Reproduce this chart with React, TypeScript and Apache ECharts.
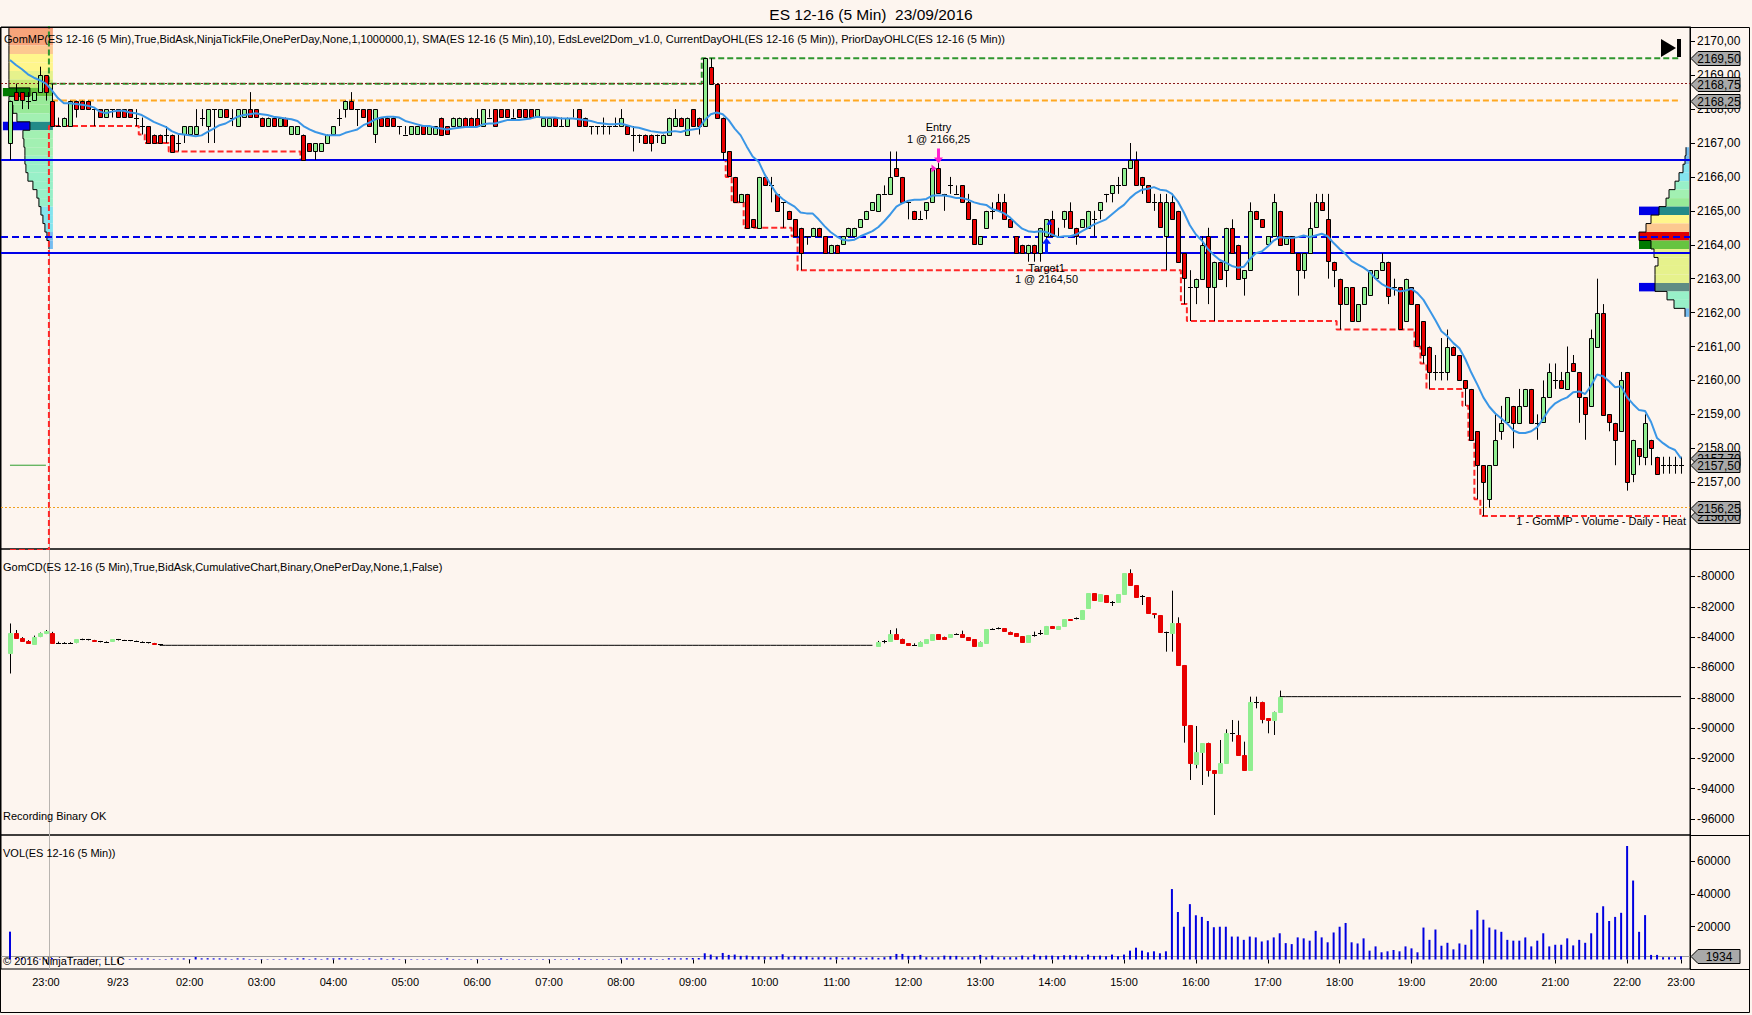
import { useEffect, useRef } from "react";
import * as echarts from "echarts";

// ---------------- DATA ----------------
// 5-minute bars, index 0..279
const priceOpen = [
  2167.0, 2168.5, 2168.5, 2168.25, 2168.25, 2168.5, 2169.0, 2168.25, 2167.5, 2167.5,
  2167.5, 2168.25, 2168.25, 2168.25, 2168.0, 2168.0, 2167.75, 2168.0, 2168.0, 2168.0,
  2168.0, 2167.75, 2167.5, 2167.5, 2167.25, 2167.25, 2167.25, 2167.25, 2167.0, 2167.25,
  2167.25, 2167.25, 2167.75, 2167.5, 2168.0, 2167.75, 2168.0, 2167.75, 2167.5, 2167.75,
  2168.0, 2168.0, 2167.75, 2167.5, 2167.75, 2167.5, 2167.75, 2167.25, 2167.25, 2167.25,
  2167.0, 2166.75, 2166.75, 2167.0, 2167.25, 2167.75, 2168.0, 2168.25, 2168.0, 2168.0,
  2168.0, 2167.25, 2167.75, 2167.75, 2167.75, 2167.5, 2167.25, 2167.25, 2167.25, 2167.5,
  2167.25, 2167.25, 2167.75, 2167.5, 2167.5, 2167.5, 2167.75, 2167.75, 2167.75, 2167.5,
  2167.75, 2168.0, 2168.0, 2168.0, 2167.75, 2168.0, 2168.0, 2168.0, 2167.75, 2167.5,
  2167.5, 2167.75, 2167.5, 2167.5, 2167.75, 2168.0, 2167.75, 2167.5, 2167.5, 2167.5,
  2167.5, 2167.5, 2167.5, 2167.5, 2167.25, 2167.25, 2167.25, 2167.25, 2167.25, 2167.0,
  2167.25, 2167.5, 2167.75, 2167.25, 2168.0, 2167.75, 2167.5, 2169.25, 2168.75, 2167.75,
  2166.75, 2166.0, 2165.25, 2165.5, 2164.75, 2164.5, 2166.0, 2165.75, 2165.5, 2165.25,
  2165.0, 2164.75, 2164.5, 2164.25, 2164.25, 2164.5, 2164.25, 2163.75, 2164.0, 2164.0,
  2164.25, 2164.25, 2164.5, 2164.75, 2165.0, 2165.0, 2165.5, 2165.5, 2166.25, 2166.0,
  2165.25, 2165.0, 2164.75, 2165.0, 2165.25, 2166.25, 2165.5, 2165.75, 2165.5, 2165.75,
  2165.25, 2164.75, 2164.0, 2164.5, 2165.0, 2165.25, 2165.25, 2164.75, 2164.25, 2164.0,
  2163.75, 2164.0, 2163.75, 2164.25, 2164.75, 2164.25, 2164.75, 2165.0, 2164.5, 2164.5,
  2164.5, 2164.75, 2165.0, 2165.5, 2165.5, 2165.75, 2165.75, 2166.25, 2166.5, 2166.0,
  2165.75, 2165.25, 2165.25, 2164.25, 2165.25, 2165.0, 2163.75, 2162.75, 2162.75, 2163.0,
  2164.25, 2162.75, 2163.5, 2163.25, 2164.5, 2164.0, 2163.0, 2163.25, 2165.0, 2164.75,
  2164.0, 2164.25, 2165.0, 2164.0, 2164.25, 2163.75, 2163.25, 2163.75, 2164.5, 2165.25,
  2164.75, 2163.5, 2163.0, 2162.25, 2162.75, 2161.75, 2162.25, 2162.5, 2163.0, 2163.25,
  2163.5, 2162.75, 2162.75, 2161.75, 2162.75, 2162.25, 2161.75, 2161.0, 2160.25, 2160.25,
  2160.25, 2161.0, 2160.75, 2160.0, 2159.75, 2158.5, 2157.5, 2156.5, 2157.5, 2158.5,
  2158.75, 2159.25, 2158.75, 2159.25, 2159.75, 2158.75, 2158.75, 2159.5, 2160.0, 2160.0,
  2159.75, 2160.5, 2160.25, 2159.5, 2159.25, 2161.0, 2162.0, 2159.0, 2158.75, 2158.5,
  2160.25, 2157.25, 2158.0, 2157.75, 2158.25, 2157.75, 2157.5, 2157.5, 2157.5, 2157.5,
];
const priceHigh = [
  2168.25, 2168.75, 2168.5, 2168.5, 2168.5, 2169.25, 2169.0, 2168.75, 2167.75, 2167.75,
  2168.25, 2168.25, 2168.25, 2168.25, 2168.0, 2168.0, 2168.0, 2168.0, 2168.0, 2168.0,
  2168.0, 2168.0, 2167.75, 2167.5, 2167.25, 2167.25, 2167.5, 2167.25, 2167.25, 2167.5,
  2167.5, 2168.0, 2168.0, 2168.0, 2168.0, 2168.0, 2168.0, 2168.0, 2168.0, 2168.0,
  2168.5, 2168.0, 2167.75, 2167.75, 2167.75, 2167.75, 2167.75, 2167.5, 2167.5, 2167.25,
  2167.0, 2167.0, 2167.0, 2167.25, 2167.5, 2168.0, 2168.25, 2168.5, 2168.0, 2168.0,
  2168.0, 2168.0, 2167.75, 2167.75, 2167.75, 2167.5, 2167.5, 2167.5, 2167.5, 2167.5,
  2167.5, 2167.5, 2167.75, 2167.5, 2167.75, 2167.75, 2167.75, 2167.75, 2168.0, 2168.0,
  2168.0, 2168.0, 2168.0, 2168.0, 2168.0, 2168.0, 2168.0, 2168.0, 2168.0, 2167.75,
  2167.75, 2167.75, 2167.75, 2167.75, 2168.0, 2168.0, 2167.75, 2167.5, 2167.5, 2167.75,
  2167.5, 2167.75, 2168.0, 2167.5, 2167.5, 2167.25, 2167.25, 2167.25, 2167.25, 2167.25,
  2167.75, 2168.0, 2167.75, 2167.75, 2168.0, 2167.75, 2169.5, 2169.5, 2168.75, 2167.75,
  2166.75, 2166.0, 2165.5, 2165.5, 2164.75, 2166.0, 2166.0, 2166.0, 2165.5, 2165.25,
  2165.0, 2164.75, 2164.5, 2164.25, 2164.5, 2164.5, 2164.25, 2164.0, 2164.0, 2164.25,
  2164.5, 2164.5, 2164.75, 2165.0, 2165.25, 2165.5, 2165.75, 2166.75, 2166.75, 2166.0,
  2165.25, 2165.0, 2165.0, 2165.25, 2166.25, 2166.5, 2165.5, 2166.0, 2165.75, 2165.75,
  2165.5, 2164.75, 2164.25, 2165.0, 2165.25, 2165.5, 2165.5, 2164.75, 2164.25, 2164.0,
  2164.0, 2164.0, 2164.5, 2164.75, 2165.0, 2164.5, 2165.0, 2165.25, 2164.5, 2164.75,
  2165.0, 2165.0, 2165.25, 2165.5, 2165.75, 2166.0, 2166.25, 2167.0, 2166.75, 2166.0,
  2165.75, 2165.5, 2165.5, 2165.5, 2165.5, 2165.0, 2163.75, 2163.25, 2163.0, 2164.25,
  2164.5, 2163.5, 2163.5, 2164.5, 2164.75, 2164.0, 2163.25, 2165.25, 2165.0, 2164.75,
  2164.25, 2165.5, 2165.0, 2164.25, 2164.25, 2163.75, 2163.75, 2165.25, 2165.5, 2165.5,
  2165.5, 2163.5, 2163.0, 2162.75, 2162.75, 2162.25, 2162.75, 2163.25, 2163.25, 2163.75,
  2163.5, 2163.0, 2162.75, 2163.0, 2162.75, 2162.25, 2161.75, 2161.0, 2160.75, 2161.25,
  2161.5, 2161.0, 2160.75, 2160.0, 2159.75, 2158.5, 2157.5, 2157.5, 2159.0, 2159.25,
  2159.5, 2159.25, 2159.75, 2159.75, 2159.75, 2159.0, 2160.0, 2160.5, 2160.5, 2160.25,
  2161.0, 2160.75, 2160.25, 2159.5, 2161.5, 2163.0, 2162.25, 2159.0, 2158.75, 2160.25,
  2160.25, 2158.25, 2158.0, 2159.0, 2158.25, 2157.75, 2157.75, 2157.75, 2157.75, 2157.75,
];
const priceLow = [
  2166.5, 2168.25, 2168.0, 2168.0, 2168.25, 2168.5, 2168.25, 2167.5, 2167.5, 2167.5,
  2167.5, 2167.75, 2168.0, 2168.0, 2167.5, 2167.75, 2167.75, 2167.75, 2167.75, 2167.75,
  2167.75, 2167.5, 2167.25, 2167.0, 2167.0, 2167.0, 2167.0, 2166.75, 2166.75, 2167.0,
  2167.25, 2167.25, 2167.5, 2167.0, 2167.0, 2167.75, 2167.75, 2167.5, 2167.5, 2167.75,
  2167.75, 2167.75, 2167.5, 2167.5, 2167.5, 2167.5, 2167.5, 2167.25, 2167.25, 2166.5,
  2166.75, 2166.5, 2166.75, 2167.0, 2167.25, 2167.5, 2167.75, 2168.0, 2167.5, 2167.75,
  2167.5, 2167.0, 2167.5, 2167.5, 2167.5, 2167.25, 2167.25, 2167.25, 2167.25, 2167.25,
  2167.25, 2167.25, 2167.25, 2167.25, 2167.5, 2167.5, 2167.5, 2167.5, 2167.5, 2167.5,
  2167.75, 2167.5, 2167.75, 2167.75, 2167.75, 2167.75, 2167.75, 2167.75, 2167.75, 2167.5,
  2167.5, 2167.5, 2167.5, 2167.5, 2167.75, 2167.5, 2167.5, 2167.25, 2167.25, 2167.25,
  2167.25, 2167.5, 2167.5, 2167.25, 2166.75, 2167.0, 2167.0, 2166.75, 2167.0, 2167.0,
  2167.25, 2167.5, 2167.5, 2167.25, 2167.5, 2167.25, 2167.5, 2168.75, 2167.75, 2166.5,
  2166.0, 2165.25, 2165.25, 2164.5, 2164.5, 2164.5, 2165.75, 2165.25, 2165.0, 2164.5,
  2164.75, 2164.25, 2163.25, 2164.0, 2164.25, 2164.25, 2163.75, 2163.75, 2163.75, 2164.0,
  2164.25, 2164.25, 2164.5, 2164.75, 2165.0, 2165.0, 2165.5, 2165.5, 2166.0, 2165.25,
  2164.75, 2164.75, 2164.75, 2164.75, 2165.25, 2165.5, 2165.0, 2165.5, 2165.5, 2165.25,
  2164.75, 2164.0, 2164.0, 2164.5, 2164.75, 2165.0, 2164.75, 2164.5, 2163.75, 2163.75,
  2163.5, 2163.5, 2163.5, 2164.0, 2164.25, 2164.25, 2164.5, 2164.5, 2164.0, 2164.5,
  2164.5, 2164.25, 2164.75, 2165.25, 2165.25, 2165.5, 2165.75, 2166.25, 2165.75, 2165.5,
  2165.25, 2165.0, 2164.5, 2163.25, 2164.75, 2163.5, 2162.25, 2161.75, 2162.25, 2163.0,
  2162.25, 2161.75, 2163.0, 2162.75, 2163.75, 2163.0, 2162.5, 2163.25, 2164.75, 2164.5,
  2164.0, 2164.25, 2164.0, 2164.0, 2163.75, 2162.5, 2163.0, 2163.75, 2164.5, 2165.0,
  2163.0, 2162.75, 2161.5, 2162.25, 2161.75, 2161.75, 2162.25, 2162.5, 2163.0, 2163.25,
  2162.25, 2162.5, 2161.5, 2161.75, 2162.25, 2161.0, 2160.5, 2159.75, 2160.0, 2160.0,
  2160.0, 2160.75, 2160.0, 2159.25, 2158.25, 2156.5, 2156.0, 2156.25, 2157.5, 2158.25,
  2158.75, 2158.0, 2158.75, 2159.25, 2158.75, 2158.25, 2158.75, 2159.5, 2159.75, 2159.75,
  2159.75, 2160.25, 2158.75, 2158.25, 2159.25, 2161.0, 2159.0, 2158.5, 2157.5, 2158.5,
  2156.75, 2157.0, 2157.5, 2157.5, 2157.5, 2157.25, 2157.25, 2157.25, 2157.25, 2157.25,
];
const priceClose = [
  2168.25, 2168.25, 2168.25, 2168.25, 2168.5, 2169.0, 2168.5, 2167.5, 2167.5, 2167.75,
  2168.25, 2168.0, 2168.0, 2168.0, 2168.0, 2167.75, 2168.0, 2168.0, 2167.75, 2167.75,
  2167.75, 2167.75, 2167.5, 2167.0, 2167.0, 2167.0, 2167.25, 2166.75, 2167.0, 2167.5,
  2167.5, 2167.5, 2167.75, 2168.0, 2168.0, 2168.0, 2167.75, 2167.75, 2168.0, 2168.0,
  2167.75, 2167.75, 2167.5, 2167.75, 2167.5, 2167.75, 2167.5, 2167.5, 2167.5, 2166.5,
  2166.75, 2167.0, 2167.0, 2167.25, 2167.5, 2167.75, 2168.25, 2168.0, 2168.0, 2167.75,
  2167.5, 2168.0, 2167.5, 2167.5, 2167.5, 2167.5, 2167.25, 2167.5, 2167.5, 2167.25,
  2167.5, 2167.5, 2167.25, 2167.25, 2167.75, 2167.75, 2167.5, 2167.5, 2167.5, 2168.0,
  2167.75, 2167.5, 2167.75, 2167.75, 2167.75, 2167.75, 2167.75, 2167.75, 2168.0, 2167.75,
  2167.75, 2167.5, 2167.5, 2167.75, 2167.75, 2167.5, 2167.5, 2167.5, 2167.5, 2167.5,
  2167.5, 2167.5, 2167.75, 2167.25, 2167.25, 2167.25, 2167.0, 2167.0, 2167.25, 2167.25,
  2167.75, 2167.75, 2167.5, 2167.75, 2167.5, 2167.5, 2169.5, 2168.75, 2167.75, 2166.75,
  2166.0, 2165.25, 2165.5, 2164.5, 2164.5, 2166.0, 2165.75, 2165.75, 2165.0, 2165.25,
  2164.75, 2164.25, 2163.75, 2164.25, 2164.5, 2164.25, 2163.75, 2164.0, 2163.75, 2164.25,
  2164.5, 2164.5, 2164.75, 2165.0, 2165.25, 2165.5, 2165.5, 2166.0, 2166.0, 2165.25,
  2165.25, 2164.75, 2164.75, 2165.25, 2166.25, 2165.5, 2165.5, 2165.75, 2165.5, 2165.25,
  2164.75, 2164.0, 2164.25, 2165.0, 2165.0, 2165.0, 2164.75, 2164.5, 2163.75, 2163.75,
  2164.0, 2163.75, 2164.5, 2164.75, 2164.25, 2164.25, 2165.0, 2164.5, 2164.25, 2164.75,
  2165.0, 2164.75, 2165.25, 2165.5, 2165.75, 2165.75, 2166.25, 2166.5, 2165.75, 2165.75,
  2165.25, 2165.25, 2164.5, 2165.25, 2164.75, 2163.5, 2163.0, 2162.75, 2163.0, 2164.0,
  2162.75, 2163.5, 2163.0, 2164.5, 2163.75, 2163.0, 2163.25, 2165.0, 2164.75, 2164.5,
  2164.25, 2165.25, 2164.0, 2164.25, 2163.75, 2163.25, 2163.75, 2164.5, 2165.25, 2165.0,
  2163.5, 2163.25, 2162.25, 2162.75, 2161.75, 2162.25, 2162.75, 2163.25, 2163.25, 2163.5,
  2162.5, 2162.75, 2161.5, 2163.0, 2162.25, 2161.0, 2160.75, 2160.25, 2160.25, 2160.25,
  2161.0, 2160.75, 2160.0, 2159.75, 2158.25, 2157.5, 2157.0, 2157.5, 2158.25, 2158.75,
  2159.5, 2158.75, 2159.25, 2159.75, 2158.75, 2158.75, 2159.5, 2160.25, 2160.0, 2159.75,
  2160.25, 2160.25, 2159.5, 2159.0, 2161.25, 2162.0, 2159.0, 2158.75, 2158.25, 2160.0,
  2157.0, 2158.25, 2157.75, 2158.75, 2158.0, 2157.25, 2157.5, 2157.5, 2157.5, 2157.5,
];
// closes of the 9 bars before the first visible bar (SMA warm-up)
const smaWarmupCloses = [2169.75, 2169.5, 2169.75, 2169.5, 2169.75, 2169.5, 2169.5, 2169.75, 2169.25];
const smaPeriod = 10;

const sessionStartBar = 7;
const prevSessionHigh = 2171.0;
const prevSessionLow = 2155.0;
const priorDayHigh = 2168.75;
const priorDayLow = 2156.25;
const prevSessionRefPrice = 2157.5;
const domSolidLevels = [2166.5, 2163.75];
const domDashedLevels = [2164.25];

const entryBar = 155;
const entryPrice = 2166.25;
const targetBar = 173;
const targetPrice = 2164.5;

// Cumulative delta (GomCD) candles, two recorded blocks
const cdStartA = 0;
const cdOpenA = [-85050, -83750, -84050, -84250, -84400, -83970, -83750, -83700, -84370, -84370, -84370, -84370, -84150, -84150, -84200, -84270, -84330, -84300, -84150, -84200, -84220, -84250, -84300, -84350, -84400, -84480];
const cdHighA = [-83100, -83530, -84000, -84200, -83900, -83700, -83530, -83650, -84300, -84330, -84330, -84150, -84100, -84120, -84180, -84250, -84280, -84130, -84120, -84180, -84200, -84230, -84280, -84330, -84380, -84460];
const cdLowA = [-86400, -84100, -84300, -84450, -84420, -84000, -83800, -84400, -84400, -84400, -84400, -84400, -84200, -84220, -84300, -84350, -84350, -84320, -84220, -84240, -84270, -84320, -84370, -84420, -84500, -84560];
const cdCloseA = [-83750, -84080, -84250, -84400, -83970, -83750, -83600, -84370, -84370, -84370, -84370, -84150, -84150, -84200, -84270, -84330, -84300, -84150, -84200, -84220, -84250, -84300, -84350, -84400, -84480, -84540];
const cdStartB = 145;
const cdOpenB = [
  -84540, -84300, -84300, -83815, -84145, -84410, -84540, -84585, -84410, -84189,
  -83815, -83969, -84013, -83815, -83815, -84013, -84145, -84585, -84409, -83485,
  -83420, -83419, -83639, -83749, -83925, -84299, -83859, -83750, -83815, -83265,
  -83485, -83265, -82826, -82760, -82826, -82100, -81111, -81616, -81220, -81660,
  -81660, -81155, -79791, -80561, -81300, -81374, -82430, -82540, -83639, -83749,
  -83090, -85838, -89797, -92326, -91556, -90963, -92766, -92986, -92326, -90347,
  -90457, -91776, -92766, -88257, -88257, -89357, -89467, -88917,
];
const cdHighB = [
  -84250, -84190, -83530, -83420, -84100, -84400, -84410, -84300, -84145, -83815,
  -83815, -83969, -83815, -83750, -83573, -84013, -84145, -84299, -83485, -83419,
  -83353, -83419, -83639, -83749, -83925, -83859, -83639, -83530, -83265, -83265,
  -83265, -82826, -82826, -82700, -82210, -81111, -81111, -81177, -81220, -81616,
  -81155, -79791, -79527, -80561, -81220, -81374, -82430, -82540, -83639, -80935,
  -82694, -85838, -89797, -89863, -91556, -90963, -92766, -90787, -90083, -89467,
  -89511, -90897, -87927, -87927, -88257, -89357, -88917, -87530,
];
const cdLowB = [
  -84540, -84410, -84300, -84145, -84410, -84540, -84585, -84585, -84410, -84189,
  -84145, -84145, -84013, -83860, -84013, -84189, -84585, -84585, -84409, -83530,
  -83485, -83639, -83749, -83969, -84299, -84299, -83969, -83859, -83815, -83419,
  -83485, -83265, -82914, -82830, -82826, -82100, -81594, -81616, -81660, -81946,
  -81660, -81155, -80561, -81374, -81880, -82430, -82760, -83639, -84959, -84959,
  -85838, -90963, -93426, -92656, -93756, -93206, -95735, -92986, -92326, -90897,
  -91776, -92766, -92766, -88697, -89687, -90347, -90457, -88917,
];
const cdCloseB = [
  -84300, -84250, -83815, -84145, -84410, -84540, -84500, -84300, -84145, -83815,
  -84145, -84100, -83815, -83815, -84013, -84189, -84585, -84299, -83485, -83485,
  -83420, -83639, -83749, -83969, -84299, -83859, -83859, -83750, -83265, -83419,
  -83265, -82826, -82914, -82760, -82210, -81111, -81594, -81177, -81660, -81660,
  -81155, -79791, -80561, -81374, -81300, -82430, -82500, -83639, -83700, -83090,
  -85838, -89797, -92326, -91556, -90963, -92766, -92986, -92326, -90347, -90391,
  -91776, -92766, -88257, -88257, -89357, -89511, -88917, -87927,
];

// Volume per bar
const volume = [
  17000, 800, 900, 300, 250, 400, 300, 900, 300, 250,
  300, 250, 300, 200, 300, 250, 300, 200, 300, 250,
  300, 700, 600, 700, 300, 250, 300, 700, 600, 700,
  300, 1500, 700, 800, 700, 700, 600, 300, 700, 700,
  300, 250, 300, 250, 300, 300, 700, 300, 700, 800,
  300, 700, 300, 700, 700, 800, 700, 700, 300, 300,
  700, 300, 700, 300, 700, 300, 250, 300, 250, 300,
  250, 300, 250, 700, 300, 250, 300, 250, 300, 250,
  300, 250, 700, 300, 250, 300, 250, 300, 250, 300,
  250, 300, 250, 300, 250, 700, 300, 250, 300, 250,
  300, 250, 700, 700, 600, 700, 700, 700, 300, 300,
  800, 700, 700, 800, 900, 900, 3800, 3000, 1800, 4000,
  2800, 3000, 2200, 2400, 2000, 2000, 1800, 1600, 2000, 3200,
  1600, 2200, 1800, 2000, 1200, 1400, 1600, 1200, 1500, 1000,
  1300, 1500, 1000, 1100, 1400, 1000,
  1400, 2000, 3400, 3400, 2200, 2200, 2800, 1400, 1400, 1400,
  2400, 2200, 2200, 1400, 1400, 2000, 2800, 1400, 2400, 1400,
  1400, 1400, 1400, 2400, 1400, 3000, 2200, 2400, 2400, 2000,
  2600, 2600, 2400, 1800, 3000, 2200, 2400, 2000, 3000, 2000,
  3000, 5400, 7200, 5400, 4400, 5000, 3800, 5000, 43000, 29000,
  20000, 33800, 27000, 26000, 23500, 19700, 20000, 20000, 14000, 14000,
  12000, 14000, 13500, 11000, 11700, 13500, 16000, 10000, 9400, 13500,
  12900, 11500, 17500, 13500, 10500, 16500, 20000, 22300, 10500, 9800,
  12900, 5400, 8000, 4400, 5000, 5800, 5000, 8000, 6800, 4400,
  19500, 12000, 18300, 8400, 10200, 6200, 9800, 9000, 18300, 30100,
  24300, 19500, 18300, 16900, 12000, 11500, 11500, 13500, 8000, 11500,
  16000, 8000, 9000, 9000, 12900, 8600, 12000, 10200, 16000, 28500,
  32500, 23500, 26000, 28500, 69300, 48200, 16900, 27100, 2800, 2800,
  1400, 1400, 1400, 1934,
];

// Time-axis labels (bar index -> text)
const timeLabelBars = [6, 18, 30, 42, 54, 66, 78, 90, 102, 114, 126, 138, 150, 162, 174, 186, 198, 210, 222, 234, 246, 258, 270, 279];
const timeLabelTexts = ["23:00", "9/23", "02:00", "03:00", "04:00", "05:00", "06:00", "07:00", "08:00", "09:00", "10:00", "11:00", "12:00", "13:00", "14:00", "15:00", "16:00", "17:00", "18:00", "19:00", "20:00", "21:00", "22:00", "23:00"];

const priceTicks = [2156, 2157, 2158, 2159, 2160, 2161, 2162, 2163, 2164, 2165, 2166, 2167, 2168, 2169, 2170];
const cdTicks = [-80000, -82000, -84000, -86000, -88000, -90000, -92000, -94000, -96000];
const volTicks = [20000, 40000, 60000];

// Volume profiles (GomMP heat): price level, volume, heat class
const leftProfilePrice = [2170.5, 2170.25, 2170.0, 2169.75, 2169.5, 2169.25, 2169.0, 2168.75, 2168.5, 2168.25, 2168.0, 2167.75, 2167.5, 2167.25, 2167.0, 2166.75, 2166.5, 2166.25, 2166.0, 2165.75, 2165.5, 2165.25, 2165.0, 2164.75, 2164.5, 2164.25, 2164.0];
const leftProfileVolume = [4400, 4400, 4400, 4400, 4400, 4400, 4400, 4400, 2300, 4400, 4000, 3600, 2300, 3000, 2900, 2800, 2800, 2700, 2500, 2000, 1600, 1400, 1200, 1000, 800, 600, 400];
const leftProfileHeat = [0, 1, 1, 2, 3, 3, 4, 5, 13, 6, 6, 7, 11, 7, 7, 7, 8, 8, 8, 8, 8, 8, 9, 9, 9, 10, 10];
const leftProfileMarkerPrice = [2168.5, 2167.5];
const rightProfilePrice = [2166.75, 2166.5, 2166.25, 2166.0, 2165.75, 2165.5, 2165.25, 2165.0, 2164.75, 2164.5, 2164.25, 2164.0, 2163.75, 2163.5, 2163.25, 2163.0, 2162.75, 2162.5, 2162.25, 2162.0];
const rightProfileVolume = [300, 400, 600, 1000, 1400, 2000, 2300, 3000, 3800, 4300, 5000, 3800, 3500, 3100, 3400, 3400, 3400, 2200, 1500, 400];
const rightProfileHeat = [10, 10, 9, 9, 8, 7, 6, 11, 3, 2, 0, 13, 4, 4, 4, 4, 12, 8, 8, 10];
const rightProfileMarkerPrice = [2165.0, 2164.0, 2162.75];

// ---------------- STYLE ----------------
const BG = "#fdf5ef";
const FONT = '"Liberation Sans", Arial, sans-serif';
const heatPalette = ["#e00000", "#f7a47a", "#fcc890", "#fff68c", "#e6f28c", "#c8ea74", "#98ea98", "#a2f0b2", "#98f0c8", "#84e4ee", "#74bcf0", "#238a88", "#5f8c84", "#66c440"];
const markerColors: Record<string, string> = { "2168.5": "#007a00", "2167.5": "#0000e6", "2165": "#0000e6", "2164": "#007a00", "2162.75": "#0000e6" };
const UP = "#90ee90";
const DOWN = "#e80000";

// ---------------- DERIVED ----------------
const N = priceClose.length;
const cat = (i: number) => i + 1;
const CATS = N + 2;
const categories = Array.from({ length: CATS }, (_, k) => String(k));
const labelMap: Record<number, string> = {};
timeLabelBars.forEach((b, j) => (labelMap[cat(b)] = timeLabelTexts[j]));

const closesExt = [...smaWarmupCloses, ...priceClose];
const sma = priceClose.map((_, i) => {
  let s = 0;
  for (let j = 0; j < smaPeriod; j++) s += closesExt[i + j];
  return s / smaPeriod;
});
const dayHigh = priceHigh.map((_, i) => (i < sessionStartBar ? prevSessionHigh : Math.max(...priceHigh.slice(sessionStartBar, i + 1))));
const dayLow = priceLow.map((_, i) => (i < sessionStartBar ? prevSessionLow : Math.min(...priceLow.slice(sessionStartBar, i + 1))));
const dayOpen = priceOpen[sessionStartBar];

const candleData = priceClose.map((c, i) => [cat(i), priceOpen[i], priceHigh[i], priceLow[i], c]);
const cdData: number[][] = [];
cdCloseA.forEach((c, j) => cdData.push([cat(cdStartA + j), cdOpenA[j], cdHighA[j], cdLowA[j], c]));
cdCloseB.forEach((c, j) => cdData.push([cat(cdStartB + j), cdOpenB[j], cdHighB[j], cdLowB[j], c]));
// carry-forward line where no delta was recorded
const cdCloseByBar: (number | null)[] = Array(N).fill(null);
cdCloseA.forEach((c, j) => (cdCloseByBar[cdStartA + j] = c));
cdCloseB.forEach((c, j) => (cdCloseByBar[cdStartB + j] = c));
const cdCarry: (number | null)[][] = [];
{
  let last: number | null = null;
  for (let i = 0; i < N; i++) {
    const v = cdCloseByBar[i];
    if (v === null) {
      if (last !== null) cdCarry.push([cat(i), last]);
    } else {
      const nextNull = i + 1 < N && cdCloseByBar[i + 1] === null;
      if (nextNull) cdCarry.push([cat(i), v]);
      else if (cdCarry.length && cdCarry[cdCarry.length - 1][1] !== null && (i === 0 || cdCloseByBar[i - 1] === null)) cdCarry.push([cat(i), null]);
      last = v;
    }
  }
}

const fmtPrice = (v: number) => v.toFixed(2).replace(".", ",");

// ---------------- RENDER HELPERS ----------------
function candleRenderer(stroke: string | null) {
  return (params: any, api: any) => {
    const k = api.value(0);
    const o = api.value(1), h = api.value(2), l = api.value(3), c = api.value(4);
    const pO = api.coord([k, o]);
    const pC = api.coord([k, c]);
    const pH = api.coord([k, h]);
    const pL = api.coord([k, l]);
    const x = Math.round(pO[0]) + 0.5;
    const half = 2;
    const top = Math.min(pO[1], pC[1]);
    const bot = Math.max(pO[1], pC[1]);
    const children: any[] = [
      { type: "line", shape: { x1: x, y1: pH[1], x2: x, y2: pL[1] }, style: { stroke: "#000", lineWidth: 1 } },
    ];
    if (bot - top < 1) {
      children.push({ type: "line", shape: { x1: x - half - 0.5, y1: Math.round(top) + 0.5, x2: x + half + 0.5, y2: Math.round(top) + 0.5 }, style: { stroke: "#000", lineWidth: 1 } });
    } else {
      const fill = c > o ? UP : DOWN;
      children.push({ type: "rect", shape: { x: x - half, y: Math.round(top) + 0.5, width: half * 2, height: Math.round(bot - top) }, style: { fill, stroke: stroke ?? fill, lineWidth: 1 } });
    }
    return { type: "group", children };
  };
}

function profileRenderer(prices: number[], vols: number[], heat: number[], markers: number[], side: "left" | "right") {
  const scale = 0.01; // px per contract
  const markerWidth = 50;
  return (params: any, api: any) => {
    const cs = params.coordSys;
    const anchor = side === "left" ? api.coord([cat(sessionStartBar), prices[0]])[0] + 1 : cs.x + cs.width - 1;
    const children: any[] = [];
    const outline: number[][] = [];
    prices.forEach((p, j) => {
      const yTop = Math.max(cs.y + 1, api.coord([0, p + 0.125])[1]);
      const yBot = Math.min(cs.y + cs.height, api.coord([0, p - 0.125])[1]);
      if (yBot <= yTop) return;
      const w = vols[j] * scale;
      const isMarker = markers.indexOf(p) >= 0;
      if (isMarker) {
        children.push({ type: "rect", shape: { x: anchor - markerWidth, y: yTop, width: markerWidth - w, height: yBot - yTop }, style: { fill: markerColors[String(p)] } });
      }
      children.push({ type: "rect", shape: { x: anchor - w, y: yTop, width: w, height: yBot - yTop }, style: { fill: heatPalette[heat[j]] } });
      outline.push([anchor - w, yTop], [anchor - w, yBot]);
    });
    children.push({ type: "polyline", shape: { points: outline }, style: { stroke: "#000", lineWidth: 1, fill: null } });
    return { type: "group", children };
  };
}

function tagRenderer(texts: string[]) {
  return (params: any, api: any) => {
    const cs = params.coordSys;
    const y = Math.round(api.coord([0, api.value(1)])[1]) + 0.5;
    const x0 = cs.x + cs.width + 1;
    const hh = 7;
    return {
      type: "group",
      children: [
        { type: "polygon", shape: { points: [[x0, y], [x0 + 7, y - hh], [x0 + 49, y - hh], [x0 + 49, y + hh], [x0 + 7, y + hh]] }, style: { fill: "#a9a9a9", stroke: "#000", lineWidth: 1 } },
        { type: "text", style: { text: texts[params.dataIndex], x: x0 + 28, y: y + 0.5, fill: "#000", font: `12px ${FONT}`, align: "center", verticalAlign: "middle", textAlign: "center", textVerticalAlign: "middle" } },
      ],
    };
  };
}

function sessionLineRenderer() {
  return (params: any, api: any) => {
    const cs = params.coordSys;
    const xa = api.coord([cat(sessionStartBar - 1), 0])[0];
    const xb = api.coord([cat(sessionStartBar), 0])[0];
    const x = Math.round((xa + xb) / 2) + 0.5;
    return { type: "line", shape: { x1: x, y1: cs.y, x2: x, y2: cs.y + cs.height }, style: { stroke: "#b8b4b0", lineWidth: 1 } };
  };
}

function tradeRenderer() {
  return (params: any, api: any) => {
    const font = `11px ${FONT}`;
    const ex = api.coord([cat(entryBar), entryPrice]);
    const tx = api.coord([cat(targetBar), targetPrice]);
    const eTip = ex[1] - 5;
    const tTip = tx[1] + 10;
    const pink = "#ff20d0";
    const blue = "#0020ff";
    const xe = Math.round(ex[0]) + 0.5;
    const xt = Math.round(tx[0]) + 0.5;
    return {
      type: "group",
      children: [
        { type: "polygon", shape: { points: [[xe - 1.5, eTip - 15], [xe + 1.5, eTip - 15], [xe + 1.5, eTip - 6], [xe + 4.5, eTip - 6], [xe, eTip], [xe - 4.5, eTip - 6], [xe - 1.5, eTip - 6]] }, style: { fill: pink } },
        { type: "polygon", shape: { points: [[xe - 7, ex[1] - 4], [xe - 2, ex[1]], [xe - 7, ex[1] + 4]] }, style: { fill: pink } },
        { type: "text", style: { text: "Entry", x: xe, y: eTip - 36, fill: "#000", font, align: "center", verticalAlign: "middle", textAlign: "center", textVerticalAlign: "middle" } },
        { type: "text", style: { text: `1 @ ${fmtPrice(entryPrice)}`, x: xe, y: eTip - 24, fill: "#000", font, align: "center", verticalAlign: "middle", textAlign: "center", textVerticalAlign: "middle" } },
        { type: "polygon", shape: { points: [[xt - 1.5, tTip + 16], [xt + 1.5, tTip + 16], [xt + 1.5, tTip + 6], [xt + 4.5, tTip + 6], [xt, tTip], [xt - 4.5, tTip + 6], [xt - 1.5, tTip + 6]] }, style: { fill: blue } },
        { type: "polygon", shape: { points: [[xt + 3, tx[1] - 8], [xt + 6, tx[1] - 3], [xt, tx[1] - 3]] }, style: { fill: blue } },
        { type: "text", style: { text: "Target1", x: xt, y: tTip + 30, fill: "#000", font, align: "center", verticalAlign: "middle", textAlign: "center", textVerticalAlign: "middle" } },
        { type: "text", style: { text: `1 @ ${fmtPrice(targetPrice)}`, x: xt, y: tTip + 41, fill: "#000", font, align: "center", verticalAlign: "middle", textAlign: "center", textVerticalAlign: "middle" } },
      ],
    };
  };
}

// ---------------- COMPONENT ----------------
export default function App() {
  const ref = useRef<HTMLDivElement>(null);
  useEffect(() => {
    document.body.style.margin = "0";
    const chart = echarts.init(ref.current!, undefined, { renderer: "svg" });

    const GL = 1, GW = 1689;
    const grids = [
      { left: GL, top: 27, width: GW, height: 522 },
      { left: GL, top: 549, width: GW, height: 286 },
      { left: GL, top: 835, width: GW, height: 134 },
    ].map((g) => ({ ...g, show: true, borderColor: "#000", borderWidth: 1, backgroundColor: "transparent", containLabel: false }));

    const xAxes = [0, 1, 2].map((gi) => ({
      type: "category",
      gridIndex: gi,
      data: categories,
      boundaryGap: true,
      show: gi === 2,
      axisLine: { show: false },
      axisTick: { show: gi === 2, alignWithLabel: true, length: 4, interval: (idx: number) => labelMap[idx] !== undefined, lineStyle: { color: "#000" } },
      axisLabel: { show: gi === 2, interval: (idx: number) => labelMap[idx] !== undefined, formatter: (_v: string, idx: number) => labelMap[idx] ?? "", color: "#000", fontSize: 11, fontFamily: FONT, margin: 7 },
      splitLine: { show: false },
    }));

    const yCommon = {
      position: "right",
      axisLine: { show: true, lineStyle: { color: "#000" } },
      splitLine: { show: false },
    };
    const yLabel = { color: "#000", fontSize: 12, fontFamily: FONT, margin: 7 };
    const yAxes = [
      { ...yCommon, gridIndex: 0, type: "value", min: 2155.03, max: 2170.42, axisTick: { show: true, length: 5, lineStyle: { color: "#000" }, customValues: priceTicks }, axisLabel: { ...yLabel, customValues: priceTicks, formatter: (v: number) => fmtPrice(v) } },
      { ...yCommon, gridIndex: 1, type: "value", min: -97055, max: -78186, axisTick: { show: true, length: 5, lineStyle: { color: "#000" }, customValues: cdTicks }, axisLabel: { ...yLabel, customValues: cdTicks, formatter: (v: number) => String(v) } },
      { ...yCommon, gridIndex: 2, type: "value", min: -5800, max: 76000, axisTick: { show: true, length: 5, lineStyle: { color: "#000" }, customValues: volTicks }, axisLabel: { ...yLabel, customValues: volTicks, formatter: (v: number) => String(v) } },
    ];

    const lastSma = sma[N - 1];
    const priceTagValues = [dayHigh[N - 1], priorDayHigh, dayOpen, lastSma, priceClose[N - 1], dayLow[N - 1], priorDayLow];
    const priceTagTexts = priceTagValues.map(fmtPrice);
    const lastVol = volume[N - 1];

    const levelLines = [
      ...domSolidLevels.map((v) => ({ yAxis: v, lineStyle: { color: "#0000e8", width: 2, type: "solid" } })),
      ...domDashedLevels.map((v) => ({ yAxis: v, lineStyle: { color: "#0000e8", width: 2, type: [7, 4] } })),
      { yAxis: priorDayHigh, lineStyle: { color: "#8b1a1a", width: 1, type: [2, 2] } },
      { yAxis: priorDayLow, lineStyle: { color: "#f0a020", width: 1, type: [2, 2] } },
    ];

    const series: any[] = [
      ...[0, 1, 2].map((gi) => ({ type: "custom", xAxisIndex: gi, yAxisIndex: gi, data: [[0, 0]], renderItem: sessionLineRenderer(), silent: true, z: 1 })),
      { type: "custom", xAxisIndex: 0, yAxisIndex: 0, data: [[0, leftProfilePrice[0]]], renderItem: profileRenderer(leftProfilePrice, leftProfileVolume, leftProfileHeat, leftProfileMarkerPrice, "left"), silent: true, z: 2 },
      { type: "custom", xAxisIndex: 0, yAxisIndex: 0, data: [[0, rightProfilePrice[0]]], renderItem: profileRenderer(rightProfilePrice, rightProfileVolume, rightProfileHeat, rightProfileMarkerPrice, "right"), silent: true, z: 2 },
      { type: "line", xAxisIndex: 0, yAxisIndex: 0, data: [], silent: true, z: 3, markLine: { symbol: "none", silent: true, label: { show: false }, data: levelLines } },
      { type: "line", xAxisIndex: 0, yAxisIndex: 0, data: [[cat(0), prevSessionRefPrice], [cat(sessionStartBar - 1), prevSessionRefPrice]], symbol: "none", lineStyle: { color: "#2e9e2e", width: 1 }, z: 3, silent: true },
      { type: "line", xAxisIndex: 0, yAxisIndex: 0, data: dayHigh.map((v, i) => [cat(i), v]), step: "middle", symbol: "none", lineStyle: { color: "#2f962f", width: 2, type: [6, 3] }, z: 4, silent: true },
      { type: "line", xAxisIndex: 0, yAxisIndex: 0, data: priceClose.map((_, i) => [cat(i), i < sessionStartBar ? null : dayOpen]), symbol: "none", lineStyle: { color: "#ffa820", width: 2, type: [6, 3] }, z: 4, silent: true },
      { type: "line", xAxisIndex: 0, yAxisIndex: 0, data: dayLow.map((v, i) => [cat(i), v]), step: "middle", symbol: "none", lineStyle: { color: "#ff2828", width: 2, type: [6, 3] }, z: 4, silent: true },
      { type: "custom", xAxisIndex: 0, yAxisIndex: 0, data: candleData, encode: { x: 0, y: [1, 2, 3, 4] }, renderItem: candleRenderer("#000"), clip: true, z: 5 },
      { type: "line", xAxisIndex: 0, yAxisIndex: 0, data: sma.map((v, i) => [cat(i), v]), symbol: "none", lineStyle: { color: "#3a96e6", width: 2 }, z: 6, silent: true },
      { type: "custom", xAxisIndex: 0, yAxisIndex: 0, data: [[cat(entryBar), entryPrice]], renderItem: tradeRenderer(), silent: true, z: 7 },
      { type: "custom", xAxisIndex: 0, yAxisIndex: 0, data: priceTagValues.map((v) => [0, v]), encode: { x: 0, y: 1 }, renderItem: tagRenderer(priceTagTexts), silent: true, z: 10, clip: false },
      { type: "line", xAxisIndex: 1, yAxisIndex: 1, data: cdCarry, symbol: "none", lineStyle: { color: "#000", width: 1 }, z: 4, silent: true, connectNulls: false },
      { type: "custom", xAxisIndex: 1, yAxisIndex: 1, data: cdData, encode: { x: 0, y: [1, 2, 3, 4] }, renderItem: candleRenderer(null), clip: true, z: 5 },
      { type: "bar", xAxisIndex: 2, yAxisIndex: 2, data: volume.map((v, i) => [cat(i), v]), barWidth: 2, itemStyle: { color: "#0000e0" }, z: 5, silent: true,
        markLine: { symbol: "none", silent: true, label: { show: false }, data: [{ yAxis: lastVol, lineStyle: { color: "#9a9a9a", width: 1, type: "solid" } }] } },
      { type: "custom", xAxisIndex: 2, yAxisIndex: 2, data: [[0, lastVol]], encode: { x: 0, y: 1 }, renderItem: tagRenderer([String(lastVol)]), silent: true, z: 10, clip: false },
    ];

    const txt = (text: string, x: number, y: number, size = 11, align = "left") => ({
      type: "text",
      x,
      y,
      z: 100,
      silent: true,
      style: { text, fill: "#000", font: `${size}px ${FONT}`, align, textAlign: align, verticalAlign: "middle", textVerticalAlign: "middle" },
    });

    const graphic: any[] = [
      { type: "rect", shape: { x: 0.5, y: 27.5, width: 1749, height: 985 }, style: { fill: null, stroke: "#000", lineWidth: 1 }, z: 90, silent: true },
      { type: "line", shape: { x1: 1690, y1: 549.5, x2: 1750, y2: 549.5 }, style: { stroke: "#000", lineWidth: 1 }, z: 90, silent: true },
      { type: "line", shape: { x1: 1690, y1: 835.5, x2: 1750, y2: 835.5 }, style: { stroke: "#000", lineWidth: 1 }, z: 90, silent: true },
      { type: "line", shape: { x1: 1690, y1: 969.5, x2: 1750, y2: 969.5 }, style: { stroke: "#000", lineWidth: 1 }, z: 90, silent: true },
      txt("ES 12-16 (5 Min)  23/09/2016", 871, 14, 15.5, "center"),
      txt("GomMP(ES 12-16 (5 Min),True,BidAsk,NinjaTickFile,OnePerDay,None,1,1000000,1), SMA(ES 12-16 (5 Min),10), EdsLevel2Dom_v1.0, CurrentDayOHL(ES 12-16 (5 Min)), PriorDayOHLC(ES 12-16 (5 Min))", 4, 39, 11),
      txt("1 - GomMP - Volume - Daily - Heat", 1686, 521, 11, "right"),
      txt("GomCD(ES 12-16 (5 Min),True,BidAsk,CumulativeChart,Binary,OnePerDay,None,1,False)", 3, 567, 11),
      txt("Recording Binary OK", 3, 816, 11),
      txt("VOL(ES 12-16 (5 Min))", 3, 853, 11),
      txt("\u00a9 2016 NinjaTrader, LLC", 3, 961, 11),
      { type: "polygon", shape: { points: [[1661, 39], [1661, 57], [1676, 48]] }, style: { fill: "#000" }, z: 100, silent: true },
      { type: "rect", shape: { x: 1677, y: 39, width: 4, height: 18 }, style: { fill: "#000" }, z: 100, silent: true },
    ];

    chart.setOption({
      animation: false,
      backgroundColor: BG,
      textStyle: { fontFamily: FONT },
      grid: grids,
      xAxis: xAxes,
      yAxis: yAxes,
      series,
      graphic,
    });
    return () => chart.dispose();
  }, []);
  return <div ref={ref} style={{ width: 1752, height: 1015 }} />;
}
